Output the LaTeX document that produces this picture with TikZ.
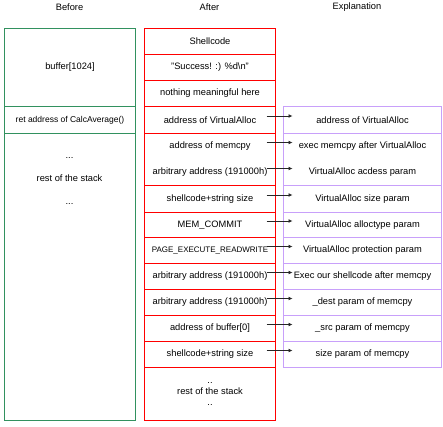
\documentclass[tikz,border=0pt]{standalone}
\usepackage{fontspec}
\setmainfont{Liberation Sans}
\usepackage{tikz}
\usetikzlibrary{positioning,arrows.meta}
\definecolor{stackgreen}{RGB}{50,145,95}
\definecolor{lilac}{RGB}{200,160,250}
\newcommand\cellfont{\fontsize{9.3}{11}\selectfont}

\begin{document}
\begin{tikzpicture}[x=1pt,y=-1pt]
			\tikzset{cell/.style={draw,line width=1pt,minimum width=131pt,inner sep=0pt,outer sep=0pt,align=center,font=\cellfont}}
			\tikzset{before/.style={cell,draw=stackgreen}}
			\tikzset{after/.style={cell,draw=red}}
			\tikzset{expl/.style={cell,draw=lilac,minimum width=158pt}}
			\tikzset{heading/.style={font=\cellfont}}
			\tikzset{arr/.style={-{Latex[length=4pt,width=4pt]},draw=black!85,line width=0.8pt}}
			\useasboundingbox (0,0) rectangle (443,426);
			% column headings
			\node[heading] (hbefore) at (69.5,7) {Before};
			\node[heading] (hafter) at (209.5,7) {After};
			\node[heading] (hexpl) at (357,7) {Explanation};
			% stack before
			\node[before,minimum height=78pt,anchor=north west] (b1) at (4.5,28.5) {buffer[1024]};
			\node[before,minimum height=27pt,below=0pt of b1,font=\fontsize{8.5}{10}\selectfont] (b2) {ret address of CalcAverage()};
			\node[before,minimum height=287pt,below=0pt of b2] (b3) {};
			\node[font=\cellfont,align=center] (b3txt) at (69.5,181) {...\\[12pt]rest of the stack\\[12pt]...};
			% stack after
			\node[after,minimum height=26pt,anchor=north west] (a1) at (144.5,28.5) {Shellcode};
			\node[after,minimum height=26pt,below=0pt of a1] (a2) {"Success! :) \%d\textbackslash n"};
			\node[after,minimum height=26pt,below=0pt of a2] (a3) {nothing meaningful here};
			\node[after,minimum height=27pt,below=0pt of a3] (a4) {address of VirtualAlloc};
			\node[after,minimum height=52pt,below=0pt of a4] (a5) {address of memcpy\\[15pt]arbitrary address (191000h)};
			\node[after,minimum height=27pt,below=0pt of a5] (a6) {shellcode+string size};
			\node[after,minimum height=25pt,below=0pt of a6] (a7) {MEM\_COMMIT};
			\node[after,minimum height=26pt,below=0pt of a7,font=\fontsize{8}{9}\selectfont] (a8) {PAGE\_EXECUTE\_READWRITE};
			\node[after,minimum height=26pt,below=0pt of a8] (a9) {arbitrary address (191000h)};
			\node[after,minimum height=26pt,below=0pt of a9] (a10) {arbitrary address (191000h)};
			\node[after,minimum height=26pt,below=0pt of a10] (a11) {address of buffer[0]};
			\node[after,minimum height=26pt,below=0pt of a11] (a12) {shellcode+string size};
			\node[after,minimum height=53pt,below=0pt of a12] (a13) {..\\rest of the stack\\..};
			% explanation
			\node[expl,minimum height=27pt,anchor=north west] (e1) at (283.5,106.5) {address of VirtualAlloc};
			\node[expl,minimum height=52pt,below=0pt of e1] (e2) {exec memcpy after VirtualAlloc\\[15pt]VirtualAlloc acdess param};
			\node[expl,minimum height=27pt,below=0pt of e2] (e3) {VirtualAlloc size param};
			\node[expl,minimum height=25pt,below=0pt of e3] (e4) {VirtualAlloc alloctype param};
			\node[expl,minimum height=26pt,below=0pt of e4] (e5) {VirtualAlloc protection param};
			\node[expl,minimum height=26pt,below=0pt of e5] (e6) {Exec our shellcode after memcpy};
			\node[expl,minimum height=26pt,below=0pt of e6] (e7) {\_dest param of memcpy};
			\node[expl,minimum height=26pt,below=0pt of e7] (e8) {\_src param of memcpy};
			\node[expl,minimum height=26pt,below=0pt of e8] (e9) {size param of memcpy};
			% arrows
			\foreach \a/\e in {a4/e1,a6/e3,a7/e4,a8/e5,a9/e6,a10/e7,a11/e8,a12/e9}
				\draw[arr] ([xshift=-9pt,yshift=4pt]\a.east) -- ([xshift=9pt,yshift=4pt]\e.west);
			\draw[arr] ([xshift=-9pt,yshift=17pt]a5.east) -- ([xshift=9pt,yshift=17pt]e2.west);
			\draw[arr] ([xshift=-9pt,yshift=-9pt]a5.east) -- ([xshift=9pt,yshift=-9pt]e2.west);
		\end{tikzpicture}
\end{document}
